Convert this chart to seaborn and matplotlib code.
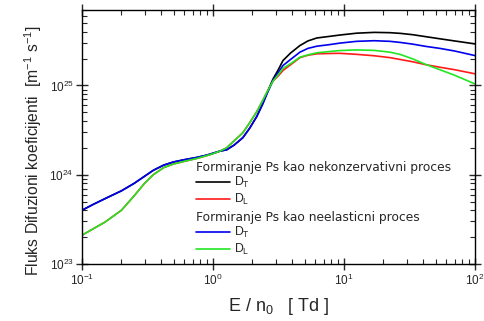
import numpy as np
import pandas as pd
import matplotlib
matplotlib.use("Agg")
import matplotlib.pyplot as plt
from matplotlib.lines import Line2D
from matplotlib.ticker import LogLocator
import seaborn as sns

# ---- data ----
E = [0.1, 0.12, 0.15, 0.2, 0.25, 0.3, 0.35, 0.42, 0.5, 0.6, 0.75, 0.9, 1.0,
     1.13, 1.27, 1.45, 1.69, 1.9, 2.16, 2.4, 2.57, 2.87, 3.15, 3.42, 3.9,
     4.61, 5.3, 6.19, 7.8, 9.3, 12.5, 17, 22.4, 27, 33.6, 42, 54, 70, 100]

DT_nekonz = [4.0e23, 4.6e23, 5.4e23, 6.6e23, 8.0e23, 9.6e23, 1.12e24, 1.28e24,
             1.39e24, 1.47e24, 1.56e24, 1.66e24, 1.74e24,
             1.84e24, 1.9e24, 2.15e24, 2.6e24, 3.3e24, 4.5e24, 6.3e24, 8.1e24,
             1.18e25, 1.5e25, 1.9e25, 2.3e25,
             2.8e25, 3.15e25, 3.4e25, 3.55e25, 3.67e25, 3.85e25, 3.93e25,
             3.9e25, 3.83e25, 3.7e25, 3.52e25, 3.33e25, 3.15e25, 2.92e25]
DL_nekonz = [2.1e23, 2.45e23, 2.95e23, 4.0e23, 5.8e23, 8.0e23, 1.0e24, 1.2e24,
             1.32e24, 1.41e24, 1.52e24, 1.64e24, 1.72e24,
             1.84e24, 2.0e24, 2.4e24, 2.95e24, 3.8e24, 5.1e24, 6.8e24, 8.3e24,
             1.12e25, 1.28e25, 1.47e25, 1.7e25,
             2.05e25, 2.18e25, 2.26e25, 2.28e25, 2.29e25, 2.23e25, 2.15e25,
             2.05e25, 1.95e25, 1.84e25, 1.71e25, 1.6e25, 1.5e25, 1.35e25]
DT_neel = [4.0e23, 4.6e23, 5.4e23, 6.6e23, 8.0e23, 9.6e23, 1.12e24, 1.28e24,
           1.39e24, 1.47e24, 1.56e24, 1.66e24, 1.74e24,
           1.84e24, 1.9e24, 2.15e24, 2.6e24, 3.3e24, 4.5e24, 6.2e24, 7.9e24,
           1.14e25, 1.4e25, 1.67e25, 1.95e25,
           2.36e25, 2.6e25, 2.75e25, 2.87e25, 2.98e25, 3.12e25, 3.17e25,
           3.12e25, 3.03e25, 2.9e25, 2.74e25, 2.6e25, 2.43e25, 2.16e25]
DL_neel = [2.1e23, 2.45e23, 2.95e23, 4.0e23, 5.8e23, 8.0e23, 1.0e24, 1.2e24,
           1.32e24, 1.41e24, 1.52e24, 1.64e24, 1.72e24,
           1.84e24, 2.0e24, 2.4e24, 2.95e24, 3.8e24, 5.1e24, 6.8e24, 8.3e24,
           1.12e25, 1.32e25, 1.55e25, 1.75e25,
           2.07e25, 2.2e25, 2.32e25, 2.4e25, 2.46e25, 2.5e25, 2.47e25,
           2.36e25, 2.22e25, 1.98e25, 1.72e25, 1.5e25, 1.3e25, 1.04e25]

series_names = ["DT_nekonz", "DL_nekonz", "DT_neel", "DL_neel"]
series_vals = [DT_nekonz, DL_nekonz, DT_neel, DL_neel]
colors = ["#000000", "#ff1a1a", "#0000ee", "#22e622"]

header1 = "Formiranje Ps kao nekonzervativni proces"
header2 = "Formiranje Ps kao neelasticni proces"
label_T = "D$_\\mathregular{T}$"
label_L = "D$_\\mathregular{L}$"
xlabel = "E / n$_\\mathregular{0}$   [ Td ]"
ylabel = "Fluks Difuzioni koeficijenti  [m$^{\\mathregular{-1}}$ s$^{\\mathregular{-1}}$]"

df = pd.concat([pd.DataFrame({"E": E, "D": v, "s": n})
                for n, v in zip(series_names, series_vals)], ignore_index=True)

# ---- style ----
sns.set_style("ticks")
plt.rcParams["font.family"] = ["Liberation Sans", "DejaVu Sans"]
plt.rcParams["mathtext.default"] = "regular"
plt.rcParams["axes.linewidth"] = 1.0

fig = plt.figure(figsize=(4.85, 3.21), dpi=100)
ax = fig.add_axes([82/485, 1-264/321, (475-82)/485, (264-10)/321])

sns.lineplot(data=df, x="E", y="D", hue="s", hue_order=series_names,
             palette=colors, linewidth=1.2, legend=False, ax=ax, sort=False)

ax.set_xscale("log")
ax.set_yscale("log")
ax.set_xlim(0.1, 100)
ax.set_ylim(1e23, 7e25)
ax.yaxis.set_major_locator(LogLocator(base=10, numticks=10))
ax.yaxis.set_minor_locator(LogLocator(base=10, subs=np.arange(2, 10), numticks=20))

ax.tick_params(which="major", direction="inout", length=8, width=1.0,
               top=True, right=True, labelsize=8.5, pad=2)
ax.tick_params(which="minor", direction="in", length=3.5, width=0.8,
               top=True, right=True)
for s in ax.spines.values():
    s.set_color("black")

ax.set_xlabel(xlabel, fontsize=13, labelpad=6)
ax.set_ylabel(ylabel, fontsize=11.3)
ax.yaxis.set_label_coords((44-82)/393, 1-(151-10)/254)

lfs = 8.8
h_T1 = Line2D([], [], color=colors[0], lw=1.2)
h_L1 = Line2D([], [], color=colors[1], lw=1.2)
h_T2 = Line2D([], [], color=colors[2], lw=1.2)
h_L2 = Line2D([], [], color=colors[3], lw=1.2)

kw = dict(loc="upper left", frameon=False, fontsize=lfs, title_fontsize=lfs,
          alignment="left", borderpad=0, borderaxespad=0, handlelength=2.8,
          handletextpad=0.35, labelspacing=0.15)
leg1 = ax.legend([h_T1, h_L1], [label_T, label_L], title=header1,
                 bbox_to_anchor=((196-82)/393, 1-(161-10)/254), **kw)
ax.add_artist(leg1)
leg2 = ax.legend([h_T2, h_L2], [label_T, label_L], title=header2,
                 bbox_to_anchor=((196-82)/393, 1-(211-10)/254), **kw)
for lg in (leg1, leg2):
    lg.get_title().set_family(["DejaVu Sans"])
    lg._legend_box.sep = 1

fig.savefig("out.png", dpi=100)
